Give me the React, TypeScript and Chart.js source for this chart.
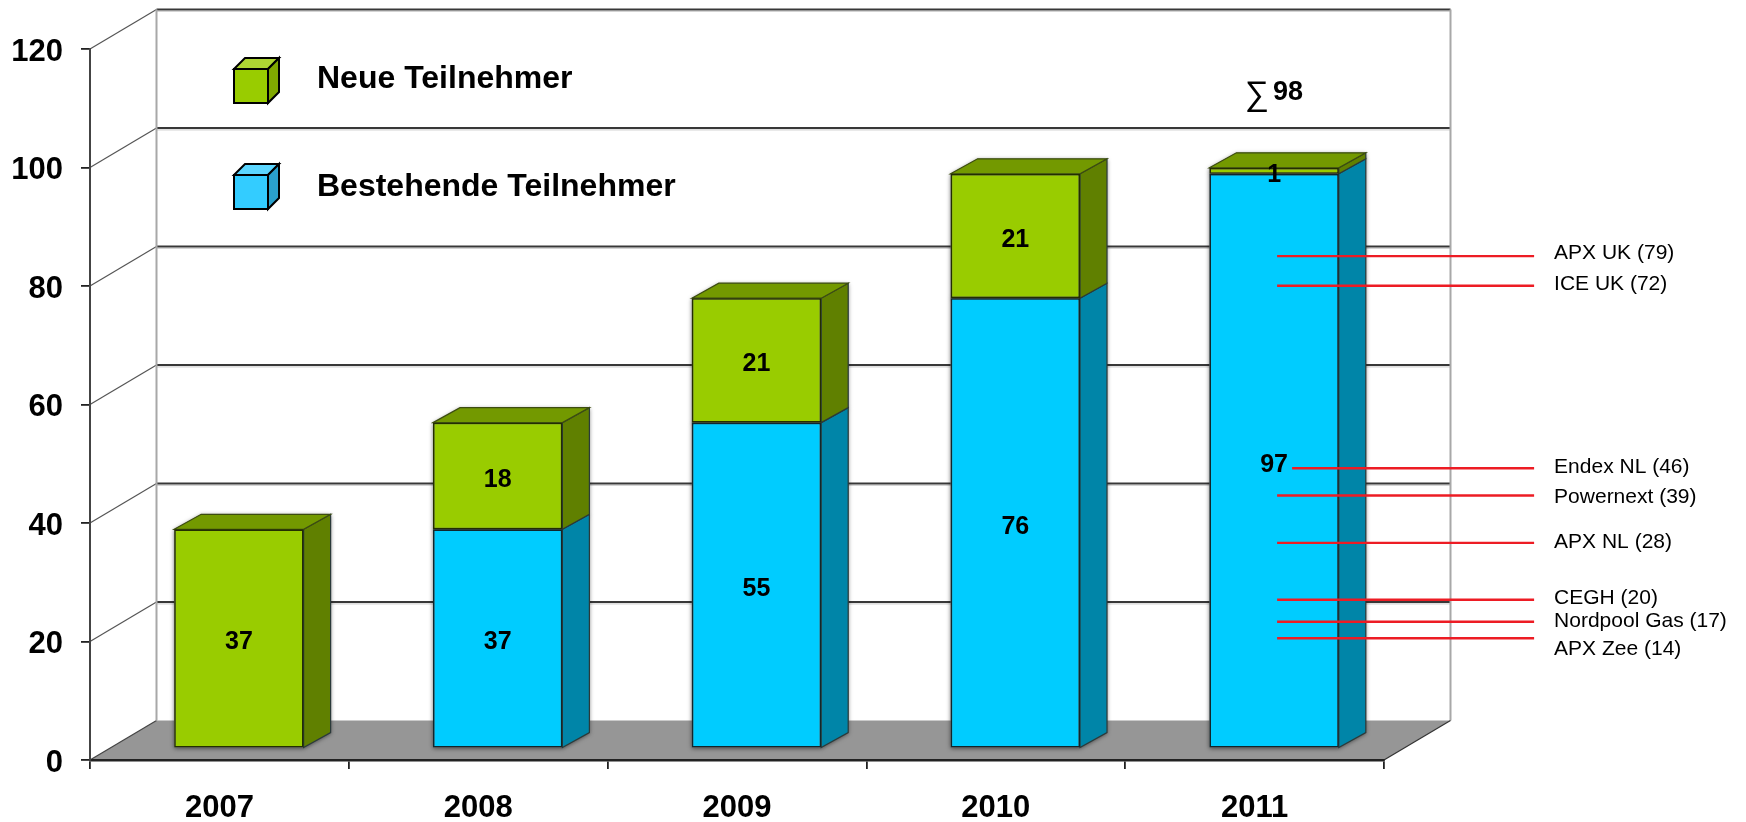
import React, { useEffect, useRef } from "react";
import { Chart, registerables } from "chart.js";

Chart.register(...registerables);

const years = ["2007", "2008", "2009", "2010", "2011"];
const existingParticipants = [null, 37, 55, 76, 97];
const newParticipants = [37, 18, 21, 21, 1];
const marketLabels = ["APX UK (79)", "ICE UK (72)", "Endex NL (46)", "Powernext (39)", "APX NL (28)", "CEGH (20)", "Nordpool Gas (17)", "APX Zee (14)"];
const marketLineLevels = [83.1, 78.1, 47.3, 42.7, 34.7, 25.1, 21.4, 18.6];
const marketLabelLevels = [83.7, 78.5, 47.7, 42.5, 35, 25.6, 21.6, 17.0];
const totalText = "98";

const FONT = "'Liberation Sans', Arial, sans-serif";
const BLUE = { front: "#00CCFF", side: "#0085A8", top: "#0099BF" };
const GREEN = { front: "#99CC00", side: "#608000", top: "#739900" };

// perspective of the 3D box, in pixels
const WALL_DX = 66.5, WALL_DY = -39.5;
const BAR_DX = 19.5, BAR_DY = -11.5;
const SIDE_DX = 27, SIDE_DY = -15;

function poly(ctx: CanvasRenderingContext2D, pts: number[][], fill: string | null, stroke?: string, lw = 1) {
  ctx.beginPath();
  pts.forEach((p, i) => (i ? ctx.lineTo(p[0], p[1]) : ctx.moveTo(p[0], p[1])));
  ctx.closePath();
  if (fill) { ctx.fillStyle = fill; ctx.fill(); }
  if (stroke) { ctx.strokeStyle = stroke; ctx.lineWidth = lw; ctx.stroke(); }
}
function line(ctx: CanvasRenderingContext2D, x1: number, y1: number, x2: number, y2: number, c: string, lw: number) {
  ctx.beginPath(); ctx.moveTo(x1, y1); ctx.lineTo(x2, y2);
  ctx.strokeStyle = c; ctx.lineWidth = lw; ctx.stroke();
}

const boxPlugin = {
  id: "box3d",
  beforeDraw(chart: any) {
    const { ctx, chartArea: a, scales } = chart;
    const y = scales.y;
    ctx.save();
    ctx.fillStyle = "#fff";
    ctx.fillRect(0, 0, chart.width, chart.height);
    const y0 = y.getPixelForValue(0);
    poly(ctx, [[a.left, y0], [a.right, y0], [a.right + WALL_DX, y0 + WALL_DY], [a.left + WALL_DX, y0 + WALL_DY]], "#969696");
    const ticks = y.ticks.map((t: any) => t.value);
    for (const v of ticks) {
      const py = y.getPixelForValue(v);
      if (v > 0) {
        line(ctx, a.left + WALL_DX, py + WALL_DY + 1.8, a.right + WALL_DX, py + WALL_DY + 1.8, "#d4d4d4", 1.2);
        line(ctx, a.left + WALL_DX, py + WALL_DY, a.right + WALL_DX, py + WALL_DY, "#383838", 2);
      }
      line(ctx, a.left, py, a.left + WALL_DX, py + WALL_DY, v > 0 ? "#555" : "#444", 1.2);
    }
    const yTop = y.getPixelForValue(y.max);
    line(ctx, a.left + WALL_DX, yTop + WALL_DY, a.left + WALL_DX, y0 + WALL_DY, "#a8a8a8", 2);
    line(ctx, a.right + WALL_DX, yTop + WALL_DY, a.right + WALL_DX, y0 + WALL_DY, "#a8a8a8", 2);
    line(ctx, a.right, y0, a.right + WALL_DX, y0 + WALL_DY, "#333", 1.2);
    ctx.restore();
  },
  beforeDatasetsDraw(chart: any) {
    const { ctx } = chart;
    ctx.save();
    ctx.translate(BAR_DX, BAR_DY);
    // soft shadow round each bar segment
    ctx.save();
    ctx.shadowColor = "rgba(0,0,0,0.55)";
    ctx.shadowBlur = 4;
    ctx.shadowOffsetY = 1;
    chart.data.datasets.forEach((ds: any, di: number) => {
      chart.getDatasetMeta(di).data.forEach((el: any, i: number) => {
        if (ds.data[i] == null) return;
        const l = el.x - el.width / 2, r = el.x + el.width / 2;
        poly(ctx, [[l, el.y], [l + SIDE_DX, el.y + SIDE_DY], [r + SIDE_DX, el.y + SIDE_DY], [r + SIDE_DX, el.base + SIDE_DY], [r, el.base], [l, el.base]], "#777");
      });
    });
    ctx.restore();
    chart.data.datasets.forEach((ds: any, di: number) => {
      const pal = di === 0 ? BLUE : GREEN;
      chart.getDatasetMeta(di).data.forEach((el: any, i: number) => {
        if (ds.data[i] == null) return;
        const r = el.x + el.width / 2;
        poly(ctx, [[r, el.y], [r + SIDE_DX, el.y + SIDE_DY], [r + SIDE_DX, el.base + SIDE_DY], [r, el.base]], pal.side, "#2b3a3a", 1.2);
        const isTop = !chart.data.datasets.slice(di + 1).some((d: any) => d.data[i] != null);
        if (isTop) {
          const l = el.x - el.width / 2;
          poly(ctx, [[l, el.y], [l + SIDE_DX, el.y + SIDE_DY], [r + SIDE_DX, el.y + SIDE_DY], [r, el.y]], pal.top, "#3d4d10", 1.2);
        }
      });
    });
  },
  afterDatasetsDraw(chart: any) {
    const { ctx } = chart;
    ctx.fillStyle = "#000";
    ctx.font = `bold 25px ${FONT}`;
    ctx.textAlign = "center";
    ctx.textBaseline = "middle";
    chart.data.datasets.forEach((ds: any, di: number) => {
      chart.getDatasetMeta(di).data.forEach((el: any, i: number) => {
        if (ds.data[i] == null) return;
        ctx.fillText(String(ds.data[i]), el.x, (el.y + el.base) / 2 + 4);
      });
    });
    ctx.restore();
  },
  afterDraw(chart: any) {
    const { ctx, scales } = chart;
    const y = scales.y;
    const x = scales.x;
    ctx.save();
    // connector lines and market names
    const xc = x.getPixelForValue(4) + BAR_DX;
    marketLineLevels.forEach((lv, i) => {
      const py = y.getPixelForValue(lv) + BAR_DY;
      line(ctx, i === 2 ? xc + 18 : xc + 3, py, xc + 260, py, "#ED1C24", 2.4);
    });
    ctx.fillStyle = "#000";
    ctx.font = `21px ${FONT}`;
    ctx.textAlign = "left";
    ctx.textBaseline = "middle";
    marketLabels.forEach((t, i) => {
      ctx.fillText(t, xc + 280, y.getPixelForValue(marketLabelLevels[i]) + BAR_DY + 1);
    });
    // total
    const totalY = y.getPixelForValue(112.6);
    ctx.textBaseline = "middle";
    ctx.font = `bold 27px ${FONT}`;
    ctx.textAlign = "left";
    ctx.fillText(totalText, xc - 1, totalY);
    ctx.font = `34px ${FONT}`;
    ctx.textAlign = "right";
    ctx.fillText("∑", xc - 5, totalY + 3);
    // legend
    const entries = [chart.data.datasets[1], chart.data.datasets[0]];
    const pals = [
      { front: GREEN.front, side: "#80A800", top: "#AED633" },
      { front: "#33CCFF", side: "#2AA0CC", top: "#5CD6FF" },
    ];
    const tops = [69, 175];
    const textOffsets = [10, 12];
    entries.forEach((ds: any, i: number) => {
      const l = 234, w = 34, h = 34, d = 11, t = tops[i], p = pals[i];
      poly(ctx, [[l, t], [l + d, t - d], [l + w + d, t - d], [l + w, t]], p.top, "#000", 2);
      poly(ctx, [[l + w, t], [l + w + d, t - d], [l + w + d, t + h - d], [l + w, t + h]], p.side, "#000", 2);
      poly(ctx, [[l, t], [l + w, t], [l + w, t + h], [l, t + h]], p.front, "#000", 2);
      ctx.fillStyle = "#000";
      ctx.font = `bold 32px ${FONT}`;
      ctx.textAlign = "left";
      ctx.textBaseline = "middle";
      ctx.fillText(ds.label, 317, t + textOffsets[i]);
    });
    ctx.restore();
  },
};

export default function App() {
  const ref = useRef<HTMLCanvasElement>(null);
  useEffect(() => {
    document.body.style.margin = "0";
    document.body.style.overflow = "hidden";
    const chart = new Chart(ref.current!, {
      type: "bar",
      data: {
        labels: years,
        datasets: [
          { label: "Bestehende Teilnehmer", data: existingParticipants, backgroundColor: BLUE.front, borderColor: "#10262c", borderWidth: 1.6, borderSkipped: false },
          { label: "Neue Teilnehmer", data: newParticipants, backgroundColor: GREEN.front, borderColor: "#232e00", borderWidth: 1.6, borderSkipped: false },
        ],
      } as any,
      options: {
        animation: false,
        responsive: false,
        layout: { padding: { top: 49, right: 362, left: 0, bottom: 0 } },
        plugins: { legend: { display: false }, tooltip: { enabled: false }, title: { display: false } },
        datasets: { bar: { barPercentage: 0.5, categoryPercentage: 1, clip: false } },
        scales: {
          x: {
            stacked: true,
            afterFit: (s: any) => { s.height = 62; },
            grid: { drawOnChartArea: false, drawTicks: true, tickLength: 9, color: "#222", lineWidth: 1.8 },
            border: { display: true, color: "#222", width: 2.4 },
            ticks: { color: "#000", font: { family: FONT, weight: "bold", size: 31 }, padding: 21, maxRotation: 0, autoSkip: false },
          },
          y: {
            stacked: true,
            min: 0,
            max: 120,
            afterFit: (s: any) => { s.width = 90; },
            grid: { drawOnChartArea: false, drawTicks: true, tickLength: 9, color: "#222", lineWidth: 1.8 },
            border: { display: true, color: "#444", width: 2 },
            ticks: { stepSize: 20, color: "#000", font: { family: FONT, weight: "bold", size: 31 }, padding: 18, labelOffset: 3 },
          },
        },
      } as any,
      plugins: [boxPlugin],
    });
    return () => chart.destroy();
  }, []);
  return <canvas ref={ref} width={1746} height={822} style={{ display: "block" }} />;
}
